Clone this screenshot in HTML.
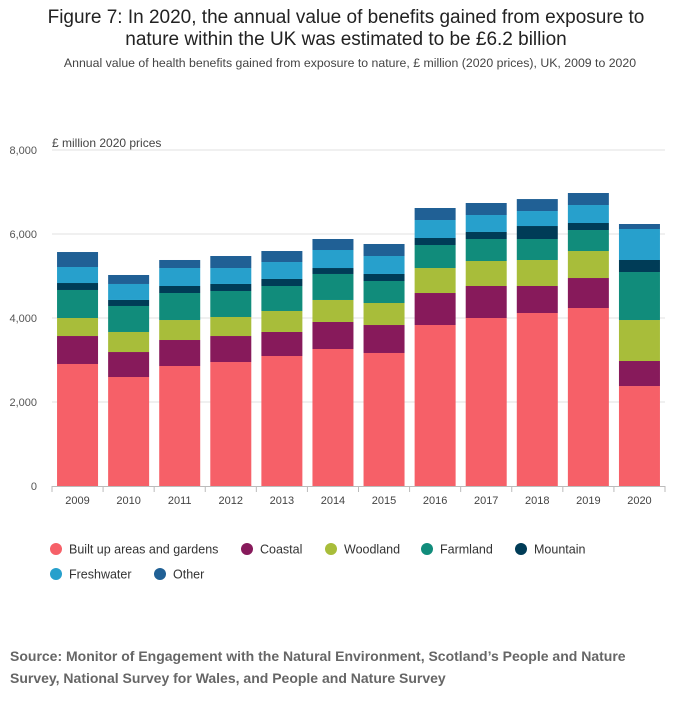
<!DOCTYPE html>
<html><head><meta charset="utf-8"><style>
body{margin:0;background:#fff;font-family:"Liberation Sans",sans-serif;}
#wrap{position:relative;width:700px;height:707px;overflow:hidden;}
.t{position:absolute;left:0;width:700px;text-align:center;color:#222;}
</style></head><body>
<div id="wrap">
<div class="t" style="top:7px;font-size:19px;line-height:22px;left:-4px;">Figure 7: In 2020, the annual value of benefits gained from exposure to<br>nature within the UK was estimated to be £6.2 billion</div>
<div class="t" style="top:56px;font-size:12.3px;color:#444;">Annual value of health benefits gained from exposure to nature, £ million (2020 prices), UK, 2009 to 2020</div>
<svg id="chart" width="700" height="707" style="position:absolute;left:0;top:0"></svg>
<div style="position:absolute;left:10px;top:645px;font-size:14px;font-weight:bold;color:#666;line-height:22px;">Source: Monitor of Engagement with the Natural Environment, Scotland’s People and Nature<br>Survey, National Survey for Wales, and People and Nature Survey</div>
</div>
<script>
const categories=["2009","2010","2011","2012","2013","2014","2015","2016","2017","2018","2019","2020"];
const builtUp=[2905,2595,2857,2952,3095,3262,3167,3833,4000,4119,4238,2380];
const coastal=[666,595,619,619,572,643,666,762,762,643,714,596];
const woodland=[429,477,476,453,500,524,524,595,595,619,643,976];
const farmland=[667,619,643,619,595,619,524,548,524,500,500,1143];
const mountain=[166,143,167,167,167,142,167,167,167,309,167,286];
const freshwater=[381,381,428,380,404,429,428,428,404,357,428,738];
const other=[357,214,191,286,262,262,286,286,286,285,286,119];
const yTicks=[0,2000,4000,6000,8000];
const yTickLabels=["0","2,000","4,000","6,000","8,000"];
const seriesNames=["Built up areas and gardens","Coastal","Woodland","Farmland","Mountain","Freshwater","Other"];
const series=[builtUp,coastal,woodland,farmland,mountain,freshwater,other];
const colors=["#f66068","#871a5b","#a8bd3a","#118c7b","#003c57","#27a0cc","#206095"];
const keys=["built-up","coastal","woodland","farmland","mountain","freshwater","other"];
const NS="http://www.w3.org/2000/svg";
const svg=document.getElementById('chart');
const x0=52,x1=665,y0=486,yTop=150,yMax=8000;
const bw=(x1-x0)/categories.length;
function y(v){return y0-(v/yMax)*(y0-yTop);}
function xc(i){return x0+bw*(i+0.5);}
function mk(t,a){const e=document.createElementNS(NS,t);for(const k in a)e.setAttribute(k,a[k]);svg.appendChild(e);return e;}
yTicks.forEach((v,i)=>{
 if(v>0){const g=mk('line',{x1:x0,x2:x1,y1:y(v),y2:y(v),stroke:'#e0e0e0','stroke-width':1});
 
 }
 const t=mk('text',{x:37,y:y(v)+4,'text-anchor':'end','font-size':11,fill:'#555','font-family':'Liberation Sans'});
 t.textContent=yTickLabels[i];
 
 
});
const yt=mk('text',{x:52,y:147,'font-size':12,fill:'#444','font-family':'Liberation Sans'});
yt.textContent='£ million 2020 prices';


categories.forEach((c,i)=>{
 let cum=0;
 series.forEach((s,j)=>{
  const v=s[i];
  const r=mk('rect',{x:xc(i)-20.5,y:y(cum+v),width:41,height:y(cum)-y(cum+v),fill:colors[j]});
  
  
  cum+=v;
 });
 const t=mk('text',{x:xc(i),y:504,'text-anchor':'middle','font-size':11,fill:'#444','font-family':'Liberation Sans'});
 t.textContent=c;
 
 
 const tk=mk('line',{x1:x0+bw*i,x2:x0+bw*i,y1:486,y2:492,stroke:'#bbb'});
 
 
});
const tk2=mk('line',{x1:x1,x2:x1,y1:486,y2:492,stroke:'#bbb'});


const ax=mk('line',{x1:x0,x2:x1,y1:486.5,y2:486.5,stroke:'#bbb'});


const legPos=[[56,549],[247,549],[331,549],[427,549],[521,549],[56,574],[160,574]];
seriesNames.forEach((n,j)=>{
 const c=mk('circle',{cx:legPos[j][0],cy:legPos[j][1],r:6,fill:colors[j]});
 
 
 const t=mk('text',{x:legPos[j][0]+13,y:legPos[j][1]+4.5,'font-size':12.5,fill:'#333','font-family':'Liberation Sans'});
 t.textContent=n;
 
 
});
</script>
</body></html>
